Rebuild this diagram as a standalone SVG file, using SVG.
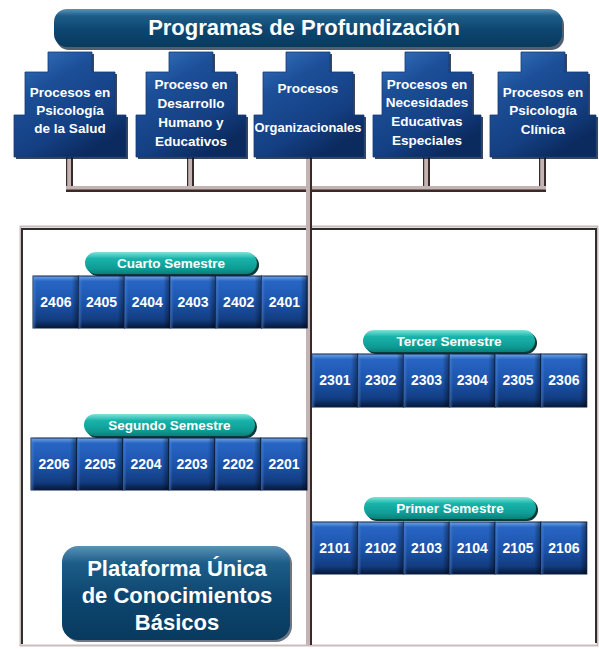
<svg xmlns="http://www.w3.org/2000/svg" width="599" height="649" viewBox="0 0 599 649">
<defs>
<linearGradient id="navy" x1="0" y1="0" x2="0" y2="1">
<stop offset="0" stop-color="#5a92b8"/>
<stop offset="0.18" stop-color="#1d5d88"/>
<stop offset="0.55" stop-color="#0d4670"/>
<stop offset="1" stop-color="#093a5e"/>
</linearGradient>
<linearGradient id="nodeG" x1="0" y1="0" x2="0.6" y2="1">
<stop offset="0" stop-color="#3a78c4"/>
<stop offset="0.35" stop-color="#1c4f98"/>
<stop offset="0.75" stop-color="#143f82"/>
<stop offset="1" stop-color="#0b2a5e"/>
</linearGradient>
<linearGradient id="tileG" x1="0" y1="0" x2="0" y2="1">
<stop offset="0" stop-color="#70a6e8"/>
<stop offset="0.1" stop-color="#2866c4"/>
<stop offset="0.5" stop-color="#1c54ac"/>
<stop offset="0.85" stop-color="#123c80"/>
<stop offset="1" stop-color="#06183a"/>
</linearGradient>
<linearGradient id="tileSh" x1="0" y1="0" x2="1" y2="0">
<stop offset="0" stop-color="#5a8fd8" stop-opacity="0.55"/>
<stop offset="0.08" stop-color="#5a8fd8" stop-opacity="0"/>
<stop offset="0.85" stop-color="#000" stop-opacity="0"/>
<stop offset="1" stop-color="#000" stop-opacity="0.45"/>
</linearGradient>
<linearGradient id="tealG" x1="0" y1="0" x2="0" y2="1">
<stop offset="0" stop-color="#7fe3da"/>
<stop offset="0.3" stop-color="#19b3aa"/>
<stop offset="0.75" stop-color="#0e9c95"/>
<stop offset="1" stop-color="#0a7f7a"/>
</linearGradient>
<style>
.t{font-family:"Liberation Sans",Arial,sans-serif;font-weight:bold;fill:#ffffff;text-anchor:middle}
.title{font-size:22px}
.nd{font-size:13.5px}
.tile{font-size:14px}
.pill{font-size:13.5px}
.big{font-size:22px}
.sh{fill:#0a1a33}
.pillsh{fill:#0b3a38}
.tilebox{fill:url(#tileG);stroke:#0a1e48;stroke-width:1}
.tilesh{fill:url(#tileSh)}
.node{fill:url(#nodeG);stroke:#123a78;stroke-width:0.8}
.pipeL{fill:#c4b3b3}
.pipeD{fill:#3a2b2b}
</style>
</defs>
<rect x="0" y="0" width="599" height="649" fill="#ffffff"/>

<!-- frame -->
<g id="frame">
<rect x="20.5" y="226.5" width="577" height="419" fill="none" stroke="#cbbcbc" stroke-width="2"/>
<path d="M22 644 V229 H596 V643" fill="none" stroke="#2e2e2e" stroke-width="2"/>
</g>

<!-- title -->
<g id="title">
<rect x="56" y="12" width="508" height="38" rx="13" class="sh" opacity="0.7"/>
<rect x="54" y="9" width="508" height="38" rx="13" fill="url(#navy)"/>
<text x="304" y="35" class="t title">Programas de Profundización</text>
</g>

<!-- connectors -->
<g id="connectors">
<rect x="67" y="157" width="6" height="33" class="pipeL"/>
<rect x="66" y="157" width="1.2" height="33" class="pipeD"/>
<rect x="71" y="157" width="2" height="33" class="pipeD"/>
<rect x="188" y="157" width="6" height="33" class="pipeL"/>
<rect x="187" y="157" width="1.2" height="33" class="pipeD"/>
<rect x="192" y="157" width="2" height="33" class="pipeD"/>
<rect x="424" y="157" width="6" height="33" class="pipeL"/>
<rect x="423" y="157" width="1.2" height="33" class="pipeD"/>
<rect x="428" y="157" width="2" height="33" class="pipeD"/>
<rect x="540" y="157" width="6" height="33" class="pipeL"/>
<rect x="539" y="157" width="1.2" height="33" class="pipeD"/>
<rect x="544" y="157" width="2" height="33" class="pipeD"/>
<rect x="66" y="186" width="480" height="6" class="pipeL"/>
<rect x="66" y="189.5" width="480" height="2.5" class="pipeD"/>
<rect x="306" y="157" width="6" height="488" class="pipeL"/>
<rect x="310" y="157" width="2" height="488" class="pipeD"/>
</g>

<!-- top nodes -->
<g id="node-salud">
<path d="M50 54 H94 V74 H117 V117 H128 V159 H16 V117 H27 V74 H50 Z" class="sh" opacity="0.8"/>
<path d="M48 52 H92 V72 H115 V115 H126 V157 H14 V115 H25 V72 H48 Z" class="node"/>
<text class="t nd" x="70" y="97">Procesos en</text>
<text class="t nd" x="70" y="115">Psicología</text>
<text class="t nd" x="70" y="133">de la Salud</text>
</g>
<g id="node-desarrollo">
<path d="M171 54 H215 V74 H238 V117 H248 V159 H138 V117 H148 V74 H171 Z" class="sh" opacity="0.8"/>
<path d="M169 52 H213 V72 H236 V115 H246 V157 H136 V115 H146 V72 H169 Z" class="node"/>
<text class="t nd" x="191" y="89">Proceso en</text>
<text class="t nd" x="191" y="108">Desarrollo</text>
<text class="t nd" x="191" y="127">Humano y</text>
<text class="t nd" x="191" y="146">Educativos</text>
</g>
<g id="node-organizacionales">
<path d="M288 54 H332 V74 H355 V117 H366 V159 H256 V117 H265 V74 H288 Z" class="sh" opacity="0.8"/>
<path d="M286 52 H330 V72 H353 V115 H364 V157 H254 V115 H263 V72 H286 Z" class="node"/>
<text class="t nd" x="308" y="93">Procesos</text>
<text class="t nd" x="308" y="132" textLength="107" lengthAdjust="spacingAndGlyphs">Organizacionales</text>
</g>
<g id="node-necesidades">
<path d="M407 54 H451 V74 H474 V117 H483 V159 H375 V117 H384 V74 H407 Z" class="sh" opacity="0.8"/>
<path d="M405 52 H449 V72 H472 V115 H481 V157 H373 V115 H382 V72 H405 Z" class="node"/>
<text class="t nd" x="427" y="89">Procesos en</text>
<text class="t nd" x="427" y="107">Necesidades</text>
<text class="t nd" x="427" y="126">Educativas</text>
<text class="t nd" x="427" y="145">Especiales</text>
</g>
<g id="node-clinica">
<path d="M523 54 H567 V74 H590 V117 H598 V159 H492 V117 H500 V74 H523 Z" class="sh" opacity="0.8"/>
<path d="M521 52 H565 V72 H588 V115 H596 V157 H490 V115 H498 V72 H521 Z" class="node"/>
<text class="t nd" x="543" y="97">Procesos en</text>
<text class="t nd" x="543" y="115">Psicología</text>
<text class="t nd" x="543" y="134">Clínica</text>
</g>

<!-- Cuarto Semestre -->
<g id="cuarto">
<rect x="87" y="254" width="172" height="22" rx="11" class="pillsh"/>
<rect x="85" y="252" width="172" height="22" rx="11" fill="url(#tealG)"/>
<text class="t pill" x="171" y="267.5">Cuarto Semestre</text>
<g>
<rect x="33" y="276" width="45.7" height="52" class="tilebox"/><rect x="33" y="276" width="45.7" height="52" class="tilesh"/>
<rect x="78.7" y="276" width="45.7" height="52" class="tilebox"/><rect x="78.7" y="276" width="45.7" height="52" class="tilesh"/>
<rect x="124.4" y="276" width="45.7" height="52" class="tilebox"/><rect x="124.4" y="276" width="45.7" height="52" class="tilesh"/>
<rect x="170.1" y="276" width="45.7" height="52" class="tilebox"/><rect x="170.1" y="276" width="45.7" height="52" class="tilesh"/>
<rect x="215.8" y="276" width="45.7" height="52" class="tilebox"/><rect x="215.8" y="276" width="45.7" height="52" class="tilesh"/>
<rect x="261.5" y="276" width="45.7" height="52" class="tilebox"/><rect x="261.5" y="276" width="45.7" height="52" class="tilesh"/>
<text class="t tile" x="55.9" y="307">2406</text>
<text class="t tile" x="101.6" y="307">2405</text>
<text class="t tile" x="147.3" y="307">2404</text>
<text class="t tile" x="193" y="307">2403</text>
<text class="t tile" x="238.7" y="307">2402</text>
<text class="t tile" x="284.4" y="307">2401</text>
</g>
</g>

<!-- Tercer Semestre -->
<g id="tercer">
<rect x="365" y="332" width="172" height="22" rx="11" class="pillsh"/>
<rect x="363" y="330" width="172" height="22" rx="11" fill="url(#tealG)"/>
<text class="t pill" x="449" y="345.5">Tercer Semestre</text>
<g>
<rect x="312" y="354" width="45.8" height="53" class="tilebox"/><rect x="312" y="354" width="45.8" height="53" class="tilesh"/>
<rect x="357.8" y="354" width="45.8" height="53" class="tilebox"/><rect x="357.8" y="354" width="45.8" height="53" class="tilesh"/>
<rect x="403.6" y="354" width="45.8" height="53" class="tilebox"/><rect x="403.6" y="354" width="45.8" height="53" class="tilesh"/>
<rect x="449.4" y="354" width="45.8" height="53" class="tilebox"/><rect x="449.4" y="354" width="45.8" height="53" class="tilesh"/>
<rect x="495.2" y="354" width="45.8" height="53" class="tilebox"/><rect x="495.2" y="354" width="45.8" height="53" class="tilesh"/>
<rect x="541" y="354" width="45.8" height="53" class="tilebox"/><rect x="541" y="354" width="45.8" height="53" class="tilesh"/>
<text class="t tile" x="334.9" y="385">2301</text>
<text class="t tile" x="380.7" y="385">2302</text>
<text class="t tile" x="426.5" y="385">2303</text>
<text class="t tile" x="472.3" y="385">2304</text>
<text class="t tile" x="518.1" y="385">2305</text>
<text class="t tile" x="563.9" y="385">2306</text>
</g>
</g>

<!-- Segundo Semestre -->
<g id="segundo">
<rect x="86" y="416" width="171" height="22" rx="11" class="pillsh"/>
<rect x="84" y="414" width="171" height="22" rx="11" fill="url(#tealG)"/>
<text class="t pill" x="169.5" y="429.5">Segundo Semestre</text>
<g>
<rect x="31" y="438" width="46" height="52" class="tilebox"/><rect x="31" y="438" width="46" height="52" class="tilesh"/>
<rect x="77" y="438" width="46" height="52" class="tilebox"/><rect x="77" y="438" width="46" height="52" class="tilesh"/>
<rect x="123" y="438" width="46" height="52" class="tilebox"/><rect x="123" y="438" width="46" height="52" class="tilesh"/>
<rect x="169" y="438" width="46" height="52" class="tilebox"/><rect x="169" y="438" width="46" height="52" class="tilesh"/>
<rect x="215" y="438" width="46" height="52" class="tilebox"/><rect x="215" y="438" width="46" height="52" class="tilesh"/>
<rect x="261" y="438" width="46" height="52" class="tilebox"/><rect x="261" y="438" width="46" height="52" class="tilesh"/>
<text class="t tile" x="54" y="469">2206</text>
<text class="t tile" x="100" y="469">2205</text>
<text class="t tile" x="146" y="469">2204</text>
<text class="t tile" x="192" y="469">2203</text>
<text class="t tile" x="238" y="469">2202</text>
<text class="t tile" x="284" y="469">2201</text>
</g>
</g>

<!-- Primer Semestre -->
<g id="primer">
<rect x="366" y="499" width="172" height="22" rx="11" class="pillsh"/>
<rect x="364" y="497" width="172" height="22" rx="11" fill="url(#tealG)"/>
<text class="t pill" x="450" y="512.5">Primer Semestre</text>
<g>
<rect x="312" y="522" width="45.8" height="52" class="tilebox"/><rect x="312" y="522" width="45.8" height="52" class="tilesh"/>
<rect x="357.8" y="522" width="45.8" height="52" class="tilebox"/><rect x="357.8" y="522" width="45.8" height="52" class="tilesh"/>
<rect x="403.6" y="522" width="45.8" height="52" class="tilebox"/><rect x="403.6" y="522" width="45.8" height="52" class="tilesh"/>
<rect x="449.4" y="522" width="45.8" height="52" class="tilebox"/><rect x="449.4" y="522" width="45.8" height="52" class="tilesh"/>
<rect x="495.2" y="522" width="45.8" height="52" class="tilebox"/><rect x="495.2" y="522" width="45.8" height="52" class="tilesh"/>
<rect x="541" y="522" width="45.8" height="52" class="tilebox"/><rect x="541" y="522" width="45.8" height="52" class="tilesh"/>
<text class="t tile" x="334.9" y="553">2101</text>
<text class="t tile" x="380.7" y="553">2102</text>
<text class="t tile" x="426.5" y="553">2103</text>
<text class="t tile" x="472.3" y="553">2104</text>
<text class="t tile" x="518.1" y="553">2105</text>
<text class="t tile" x="563.9" y="553">2106</text>
</g>
</g>

<!-- Plataforma -->
<g id="plataforma">
<rect x="64" y="548" width="228" height="94" rx="16" class="sh" opacity="0.6"/>
<rect x="62" y="546" width="228" height="94" rx="16" fill="url(#navy)"/>
<text class="t big" x="177" y="576">Plataforma Única</text>
<text class="t big" x="177" y="603">de Conocimientos</text>
<text class="t big" x="177" y="630">Básicos</text>
</g>
</svg>
